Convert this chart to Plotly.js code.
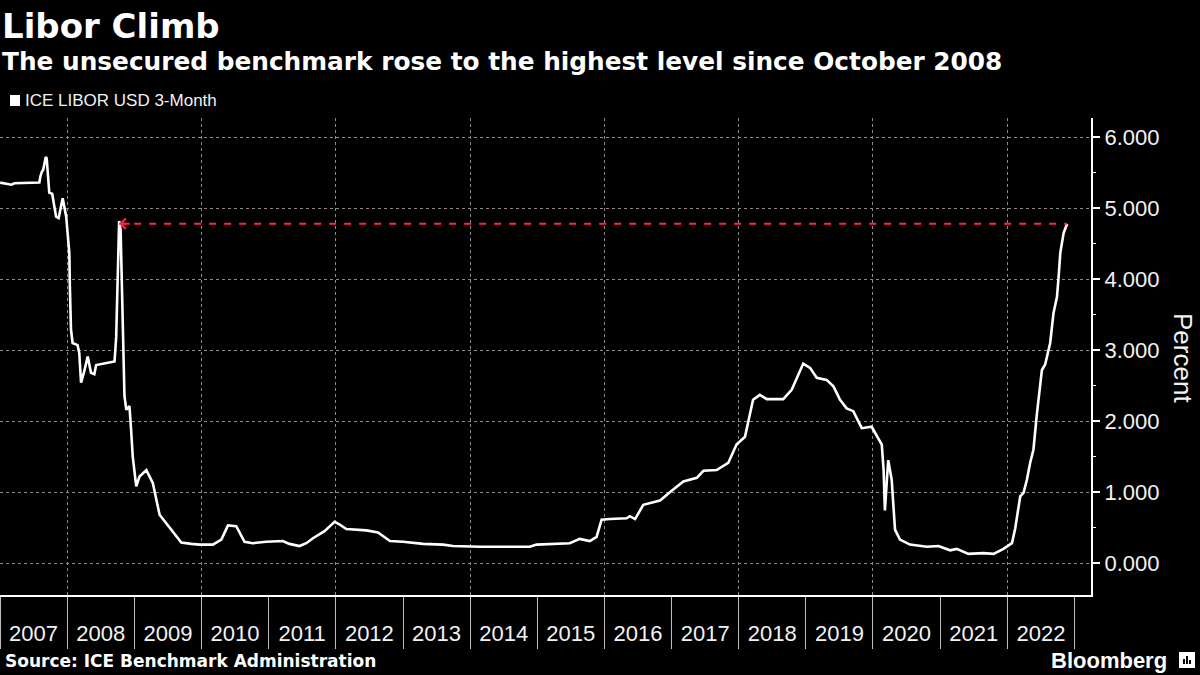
<!DOCTYPE html>
<html>
<head>
<meta charset="utf-8">
<script src="https://cdn.plot.ly/plotly-3.0.1.min.js"></script>
<style>
  html, body { margin: 0; padding: 0; background: #000; }
  #chart { width: 1200px; height: 675px; }
</style>
</head>
<body>
<div id="chart"></div>
<script>
// ---- Data ----
const dates = [
  '2007-01-02','2007-03-05','2007-03-20','2007-08-03','2007-08-09','2007-08-16','2007-08-24','2007-08-31',
  '2007-09-07','2007-09-12','2007-09-20','2007-09-26','2007-10-12','2007-11-02','2007-11-16','2007-12-08',
  '2007-12-27','2008-01-04','2008-01-13','2008-01-16','2008-01-22','2008-01-31','2008-02-27','2008-03-07',
  '2008-03-17','2008-04-03','2008-04-22','2008-05-10','2008-05-28','2008-06-07','2008-09-15','2008-09-24',
  '2008-10-03','2008-10-10','2008-10-18','2008-10-30','2008-11-08','2008-11-18','2008-12-05','2008-12-14',
  '2008-12-23','2009-01-11','2009-01-29','2009-03-07','2009-04-11','2009-05-18','2009-06-24','2009-07-30',
  '2009-09-13','2009-11-06','2009-12-22','2010-03-04','2010-04-19','2010-05-25','2010-07-09','2010-08-23',
  '2010-10-07','2010-12-19','2011-03-19','2011-04-24','2011-06-18','2011-07-25','2011-08-30','2011-11-01',
  '2011-12-26','2012-01-23','2012-02-28','2012-06-16','2012-08-18','2012-10-22','2013-01-01','2013-04-20',
  '2013-08-07','2013-09-30','2014-02-23','2014-08-23','2014-11-22','2014-12-28','2015-03-28','2015-06-27',
  '2015-08-20','2015-10-14','2015-11-20','2015-12-17','2016-01-31','2016-05-01','2016-05-19','2016-06-16',
  '2016-07-31','2016-10-30','2016-12-24','2017-03-06','2017-05-18','2017-06-23','2017-09-03','2017-11-05',
  '2017-12-20','2018-02-04','2018-03-20','2018-04-26','2018-06-02','2018-08-31','2018-10-16','2018-12-18',
  '2019-01-24','2019-03-01','2019-04-24','2019-05-31','2019-07-06','2019-08-11','2019-09-16','2019-11-01',
  '2019-12-25','2020-02-18','2020-02-28','2020-03-06','2020-03-24','2020-04-12','2020-04-30','2020-05-27',
  '2020-07-20','2020-10-20','2020-12-22','2021-02-24','2021-04-01','2021-06-03','2021-08-24','2021-10-18',
  '2021-12-11','2022-01-26','2022-02-13','2022-03-12','2022-03-30','2022-04-17','2022-05-05','2022-05-23',
  '2022-06-11','2022-06-19','2022-07-08','2022-07-26','2022-08-22','2022-09-09','2022-09-28','2022-10-07',
  '2022-10-16','2022-11-03','2022-11-22'
];
const libor3m = [
  5.36,5.33,5.35,5.36,5.45,5.51,5.54,5.62,
  5.72,5.70,5.40,5.22,5.20,4.88,4.86,5.14,
  4.88,4.65,4.37,3.90,3.29,3.10,3.07,2.96,
  2.54,2.70,2.91,2.68,2.66,2.79,2.84,3.19,
  4.32,4.82,4.69,3.47,2.35,2.16,2.21,1.88,
  1.50,1.08,1.22,1.31,1.13,0.68,0.56,0.45,
  0.29,0.27,0.26,0.26,0.33,0.53,0.52,0.30,
  0.28,0.30,0.31,0.27,0.24,0.28,0.35,0.45,
  0.58,0.54,0.48,0.46,0.43,0.31,0.30,0.27,
  0.26,0.24,0.23,0.23,0.23,0.26,0.27,0.28,
  0.34,0.31,0.37,0.61,0.62,0.63,0.66,0.62,
  0.82,0.88,1.00,1.15,1.20,1.30,1.31,1.41,
  1.67,1.78,2.30,2.37,2.31,2.31,2.44,2.81,
  2.75,2.61,2.58,2.49,2.30,2.18,2.14,1.90,
  1.92,1.67,1.31,0.74,1.45,1.17,0.47,0.33,
  0.26,0.23,0.24,0.18,0.20,0.13,0.14,0.13,
  0.20,0.28,0.49,0.94,0.99,1.17,1.41,1.60,
  2.11,2.30,2.72,2.80,3.10,3.52,3.75,4.04,
  4.37,4.65,4.78
];
const seriesName = 'ICE LIBOR USD 3-Month';
const peakDate = '2008-10-10';          // Oct 2008 high the latest level is compared with
const latestDate = dates[dates.length - 1];
const latestLevel = libor3m[libor3m.length - 1];
const xRange = ['2007-01-01', '2023-04-01'];
const yRange = [-0.45, 6.27];
const yTicks = [0, 1, 2, 3, 4, 5, 6];

// ---- Figure ----
const white = '#ffffff';
const red = '#ff2446';

const traces = [
  {
    x: dates, y: libor3m, type: 'scatter', mode: 'lines', name: seriesName,
    line: { color: white, width: 2.6 }, hoverinfo: 'x+y', showlegend: false
  },
  {
    x: [peakDate, latestDate], y: [latestLevel, latestLevel], type: 'scatter', mode: 'lines',
    xaxis: 'x2', yaxis: 'y',
    line: { color: red, width: 2, dash: '7px,8px' }, hoverinfo: 'skip', showlegend: false
  }
];

const layout = {
  width: 1200, height: 675,
  paper_bgcolor: '#000', plot_bgcolor: '#000',
  margin: { l: 0, r: 109, t: 118, b: 80 },
  showlegend: false,
  font: { family: 'Liberation Sans, Arial, sans-serif', color: white },
  xaxis: {
    type: 'date', range: xRange, fixedrange: true,
    tick0: '2007-01-01', dtick: 'M12', tickformat: '%Y', ticklabelmode: 'period',
    ticks: 'outside', ticklen: 52, tickwidth: 1, tickcolor: '#bdbdbd',
    ticklabelstandoff: -34,
    tickfont: { family: 'Liberation Sans, Arial, sans-serif', size: 22, color: '#f2f2f2' },
    showgrid: false, zeroline: false,
    showline: true, linecolor: white, linewidth: 2
  },
  xaxis2: {
    type: 'date', range: xRange, overlaying: 'x', anchor: 'y', side: 'bottom',
    tick0: '2008-01-01', dtick: 'M24', showticklabels: false, ticks: '',
    showgrid: true, gridcolor: '#8a8a8a', gridwidth: 1, griddash: 'dot',
    showline: false, zeroline: false, fixedrange: true
  },
  yaxis: {
    side: 'right', range: yRange, fixedrange: true,
    tickvals: yTicks, tickformat: '.3f',
    ticks: 'outside', ticklen: 7, tickwidth: 2, tickcolor: white,
    tickfont: { family: 'Liberation Sans, Arial, sans-serif', size: 22, color: '#f2f2f2' },
    showgrid: true, gridcolor: '#8a8a8a', gridwidth: 1, griddash: 'dot',
    zeroline: false, showline: true, linecolor: white, linewidth: 2,
    minor: { dtick: 0.5, tick0: 0, ticks: 'outside', ticklen: 3, tickwidth: 1, tickcolor: white, showgrid: false }
  },
  shapes: [
    // legend swatch
    { type: 'rect', xref: 'paper', yref: 'paper', x0: 10/1091, x1: 20/1091,
      y0: (595-106)/477, y1: (595-95)/477, fillcolor: white, line: { width: 0 } },
    // logo badge
    { type: 'rect', xref: 'paper', yref: 'paper', x0: 1179/1091, x1: 1195/1091,
      y0: (595-668)/477, y1: (595-652)/477, fillcolor: white, line: { width: 0 } },
    { type: 'rect', xref: 'paper', yref: 'paper', x0: 1183/1091, x1: 1185/1091,
      y0: (595-664)/477, y1: (595-659)/477, fillcolor: '#000', line: { width: 0 } },
    { type: 'rect', xref: 'paper', yref: 'paper', x0: 1186/1091, x1: 1188/1091,
      y0: (595-664)/477, y1: (595-656)/477, fillcolor: '#000', line: { width: 0 } },
    { type: 'rect', xref: 'paper', yref: 'paper', x0: 1189/1091, x1: 1191/1091,
      y0: (595-664)/477, y1: (595-660)/477, fillcolor: '#000', line: { width: 0 } }
  ],
  annotations: [
    { text: '<b>Libor Climb</b>', xref: 'paper', yref: 'paper', x: 0, y: (595-26)/477,
      xanchor: 'left', yanchor: 'middle', showarrow: false,
      font: { family: 'DejaVu Sans, sans-serif', size: 34, color: white } },
    { text: '<b>The unsecured benchmark rose to the highest level since October 2008</b>',
      xref: 'paper', yref: 'paper', x: 0, y: (595-61)/477,
      xanchor: 'left', yanchor: 'middle', showarrow: false,
      font: { family: 'DejaVu Sans, sans-serif', size: 24.8, color: white } },
    { text: seriesName, xref: 'paper', yref: 'paper', x: 23/1091, y: (595-101)/477,
      xanchor: 'left', yanchor: 'middle', showarrow: false,
      font: { family: 'Liberation Sans, Arial, sans-serif', size: 17, color: '#f2f2f2' } },
    { text: 'Percent', xref: 'paper', yref: 'paper', x: 1183/1091, y: (595-358)/477,
      xanchor: 'center', yanchor: 'middle', showarrow: false, textangle: 90,
      font: { family: 'Liberation Sans, Arial, sans-serif', size: 26, color: '#f2f2f2' } },
    { text: '<b>Source: ICE Benchmark Administration</b>', xref: 'paper', yref: 'paper',
      x: 3/1091, y: (595-661)/477, xanchor: 'left', yanchor: 'middle', showarrow: false,
      font: { family: 'DejaVu Sans, sans-serif', size: 17, color: white } },
    { text: '<b>Bloomberg</b>', xref: 'paper', yref: 'paper', x: 1169/1091, y: (595-660)/477,
      xanchor: 'right', yanchor: 'middle', showarrow: false,
      font: { family: 'Liberation Sans, Arial, sans-serif', size: 22, color: white } },
    // arrowhead pointing at the October 2008 high
    { x: peakDate, y: latestLevel, xref: 'x', yref: 'y', text: '', showarrow: true,
      ax: 12, ay: 0, arrowhead: 4, arrowsize: 1, arrowwidth: 2, arrowcolor: red, standoff: 0 }
  ]
};

Plotly.newPlot('chart', traces, layout, { staticPlot: true, displayModeBar: false });
</script>
</body>
</html>
